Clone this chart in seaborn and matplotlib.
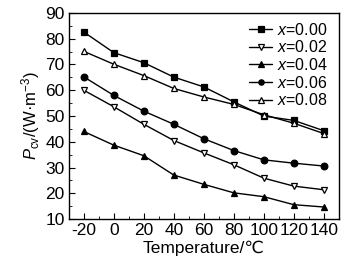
import pandas as pd
import seaborn as sns
import matplotlib
matplotlib.use("Agg")
import matplotlib.pyplot as plt
from matplotlib.ticker import MultipleLocator

temps = [-20, 0, 20, 40, 60, 80, 100, 120, 140]
labels = ["0.00", "0.02", "0.04", "0.06", "0.08"]
p_000 = [82.6, 74.6, 70.7, 65.1, 61.3, 55.5, 50.0, 48.3, 44.3]
p_002 = [60.0, 53.6, 46.8, 40.5, 35.7, 31.1, 25.9, 22.8, 21.4]
p_004 = [44.0, 38.7, 34.6, 27.1, 23.5, 20.2, 18.7, 15.6, 14.7]
p_006 = [65.2, 58.0, 51.9, 46.8, 41.2, 36.6, 33.0, 31.7, 30.6]
p_008 = [75.1, 70.1, 65.7, 60.7, 57.4, 54.5, 50.5, 47.2, 43.2]

series = [p_000, p_002, p_004, p_006, p_008]
markers = ["s", "v", "^", "o", "^"]
faces = ["black", "white", "black", "black", "white"]

sns.set_style("ticks")
plt.rcParams["font.family"] = ["Liberation Sans", "DejaVu Sans"]
plt.rcParams["mathtext.fontset"] = "custom"
plt.rcParams["mathtext.rm"] = "Liberation Sans"
plt.rcParams["mathtext.it"] = "Liberation Sans:italic"
plt.rcParams["axes.unicode_minus"] = False
for k in ["text.color", "axes.labelcolor", "xtick.color", "ytick.color", "axes.edgecolor"]:
    plt.rcParams[k] = "black"

fig = plt.figure(figsize=(3.62, 2.64), dpi=100)
ax = fig.add_axes([0.19, 0.17, 0.746, 0.781])

for lab, vals, m, fc in zip(labels, series, markers, faces):
    df = pd.DataFrame({"T": temps, "P": vals})
    sns.lineplot(data=df, x="T", y="P", ax=ax, color="black", marker=m,
                 markersize=4.8, markerfacecolor=fc, markeredgecolor="black",
                 markeredgewidth=0.9, linewidth=1.0, label=r"$x$=" + lab)

ax.set_xlim(-30, 150)
ax.set_ylim(10, 90)
ax.xaxis.set_major_locator(MultipleLocator(20))
ax.xaxis.set_minor_locator(MultipleLocator(10))
ax.yaxis.set_major_locator(MultipleLocator(10))
ax.yaxis.set_minor_locator(MultipleLocator(5))
ax.tick_params(which="both", direction="in", top=False, right=False, labelsize=12.5)
ax.tick_params(which="major", length=4, pad=3)
ax.tick_params(which="minor", length=2)
for s in ax.spines.values():
    s.set_visible(True)
    s.set_linewidth(1.0)

ax.set_xlabel("Temperature/℃", fontsize=12.5, labelpad=2)
ax.set_ylabel(r"$P_{\rm cv}$/(W·m$^{-3}$)", fontsize=12, labelpad=2)
ax.legend(loc="upper right", frameon=False, fontsize=11.5, handlelength=1.4,
          handletextpad=0.3, labelspacing=0.1, borderaxespad=0.15,
          markerscale=0.8, bbox_to_anchor=(0.99, 1.0))

fig.savefig("out.png", dpi=100)
